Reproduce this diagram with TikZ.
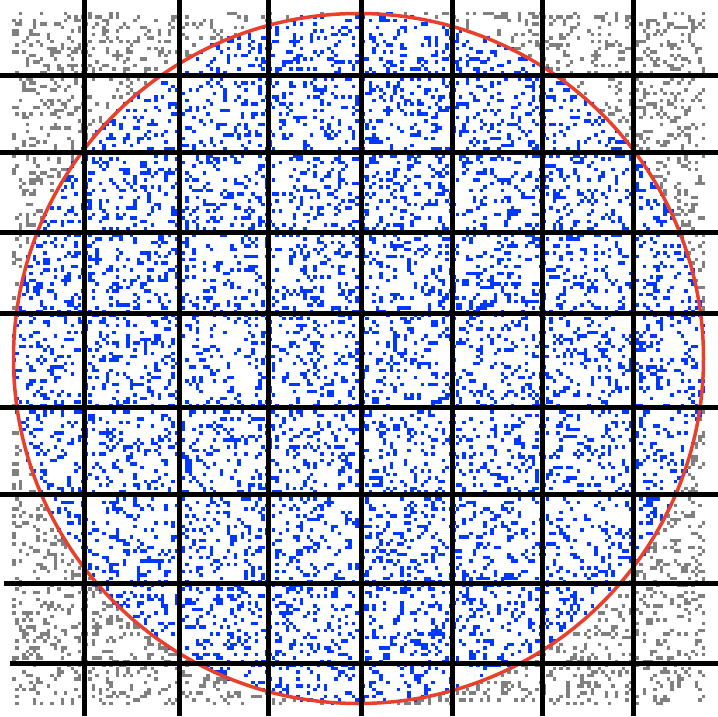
\documentclass[tikz,border=0pt]{standalone}
\definecolor{ptblue}{RGB}{0,56,255}
\definecolor{ptgray}{RGB}{128,128,128}
\definecolor{circred}{RGB}{232,64,44}
\tikzset{gridline/.style={line width=5pt,black},
  circline/.style={line width=3.5pt,circred}}
\begin{document}
\begin{tikzpicture}[x=1pt,y=1pt]
\useasboundingbox (0,0) rectangle (718,716);
\pgfmathsetseed{2024}
\foreach \i in {1,...,9500}{%
  \pgfmathrandominteger{\rx}{0}{199}%
  \pgfmathrandominteger{\ry}{0}{199}%
  \ifnum\numexpr(2*\rx-199)*(2*\rx-199)+(2*\ry-199)*(2*\ry-199)\relax<40000
    \pgfsetfillcolor{ptblue}%
  \else
    \pgfsetfillcolor{ptgray}%
  \fi
  \pgfpathrectangle{\pgfqpoint{\dimexpr12pt+3.465pt*\rx\relax}{\dimexpr11pt+3.465pt*\ry\relax}}{\pgfqpoint{3.5pt}{3.5pt}}%
  \pgfusepath{fill}%
}
\coordinate (c) at (358.5,357.5);
\draw[circline] (c) circle[radius=345];
% vertical grid lines
\foreach \x in {84,179,268,361,452,542,633}{
  \draw[gridline] (\x,0) -- (\x,716);
}
% horizontal grid lines (image y -> 716-y)
\foreach \y/\s in {75.5/0,153/0,232.5/0,314/0,408/0,494.5/0,583/4,663/10}{
  \draw[gridline] (\s,716-\y) -- (718,716-\y);
}
\end{tikzpicture}
\end{document}
